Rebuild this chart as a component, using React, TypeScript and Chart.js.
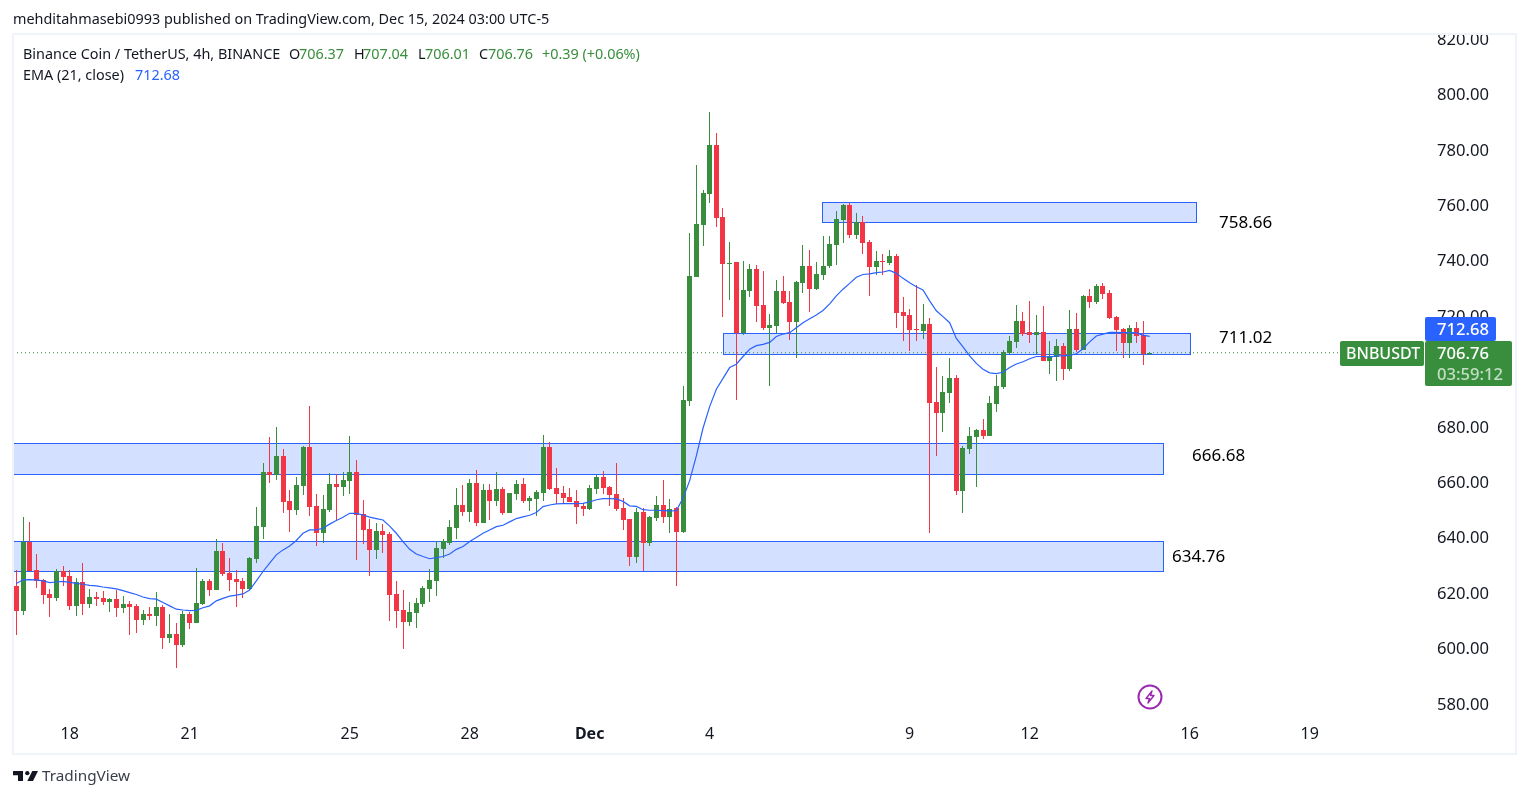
import React, { useEffect, useRef } from "react";
import { Chart, registerables } from "chart.js";

Chart.register(...registerables);

const highs = [628.4,647.5,645.7,634.1,625.1,621.5,628.7,629.8,628.4,625.4,630.8,621.5,620.4,620.8,618.3,621.1,619.0,617.2,616.1,613.9,615.0,620.4,615.7,612.5,609.2,613.6,613.2,629.1,625.1,625.1,639.6,638.1,632.7,628.4,625.5,633.1,651.1,667.0,676.4,680.0,672.0,657.2,661.9,
673.1,687.5,655.8,655.4,663.4,663.0,663.7,676.7,668.0,653.6,646.8,645.3,644.9,642.1,624.4,621.1,616.8,618.2,622.6,628.7,638.8,639.5,646.4,657.9,659.0,661.2,664.4,
659.4,659.4,663.7,658.3,656.2,660.8,661.6,655.1,657.2,677.1,674.6,665.2,658.7,658.0,657.2,652.5,659.0,662.7,664.1,658.7,667.0,654.3,646.8,650.7,650.7,647.9,655.1,660.8,654.0,651.1,694.8,
750.0,774.5,765.5,793.7,786.1,759.0,746.8,739.5,739.9,738.8,738.5,736.3,720.8,733.0,734.5,729.1,732.7,745.7,743.9,739.5,748.9,748.9,757.9,760.5,760.8,757.2,756.1,747.5,743.5,742.4,743.9,742.4,726.9,722.6,
731.2,724.3,719.3,701.6,698.3,704.8,698.7,673.1,679.9,679.2,682.8,691.1,698.7,707.7,712.8,724.0,721.4,725.4,720.4,723.6,711.0,711.7,710.3,722.2,721.1,727.6,729.7,731.5,731.9,729.4,720.0,715.7,716.8,717.8,718.2,707.04];

const lows = [604.9,612.1,628.0,622.0,616.1,611.5,617.2,622.6,613.9,611.8,612.1,614.7,615.4,615.7,613.2,611.4,612.8,604.9,605.6,608.5,610.3,608.2,599.9,602.0,593.0,600.6,607.1,609.2,615.7,619.0,621.1,626.2,620.8,615.0,618.3,621.1,630.9,639.6,659.8,660.8,648.9,642.1,648.2,
655.4,647.8,637.0,638.1,649.3,646.0,655.1,655.8,632.0,637.7,626.2,632.3,634.5,609.9,607.4,599.8,608.1,607.4,615.0,616.8,619.0,632.7,637.4,639.5,647.8,645.7,644.2,
645.7,646.4,651.5,648.2,648.9,653.6,652.5,649.7,647.9,653.3,657.2,652.2,652.5,652.9,645.0,647.9,650.0,655.8,655.8,651.5,649.7,642.8,629.8,630.9,627.8,637.0,646.0,645.3,641.7,622.6,641.7,
687.6,734.1,745.3,760.8,752.2,719.7,725.8,689.7,713.2,726.9,717.9,715.0,694.8,713.9,724.4,711.4,704.9,728.3,721.5,729.4,733.0,737.4,738.5,746.4,748.2,747.8,742.4,727.3,734.8,734.8,738.5,715.7,711.0,707.4,
711.0,711.7,641.7,669.5,678.1,688.6,655.4,648.9,670.2,658.3,675.6,676.7,685.4,693.7,706.3,708.4,712.8,710.3,706.3,703.8,699.1,696.5,696.9,700.1,707.0,707.7,722.9,724.3,726.1,718.9,707.4,704.8,704.8,710.3,702.3,706.01];

const opens = [622.6,613.6,638.6,628.4,624.8,619.7,618.3,628.0,626.2,615.4,624.0,616.1,618.6,618.3,616.8,617.9,614.7,616.1,615.4,610.3,612.5,611.8,615.0,603.8,605.3,601.3,612.5,609.2,616.1,624.4,621.1,635.2,627.3,625.1,624.4,621.5,632.3,643.9,663.7,662.7,669.5,653.3,650.0,
658.7,672.7,651.4,641.7,650.0,659.4,658.3,660.5,663.7,648.6,643.1,635.6,642.4,641.3,619.7,613.9,609.6,612.8,616.1,621.5,624.4,635.9,638.1,643.5,651.8,649.3,659.7,
645.3,657.2,653.3,657.6,648.9,655.8,659.4,653.3,654.0,656.2,672.8,658.0,656.2,654.7,653.3,651.5,650.4,657.6,661.9,658.3,655.8,650.7,646.8,633.1,649.3,638.1,647.1,651.8,647.5,650.7,642.1,
689.4,734.1,752.9,764.1,781.8,755.8,738.8,739.5,713.9,729.1,737.0,724.0,715.7,716.4,729.1,725.1,717.9,732.0,738.1,729.8,734.8,738.1,745.7,754.7,760.1,749.3,754.0,746.8,737.7,739.9,739.2,741.7,721.5,720.4,
715.3,714.6,717.1,689.0,685.0,692.2,697.6,656.8,672.0,676.3,678.9,676.7,688.2,694.4,706.6,710.6,718.2,714.2,713.1,714.2,703.8,705.2,709.2,700.9,715.3,707.7,727.2,725.1,730.8,728.3,719.6,715.3,710.3,715.7,713.1,706.37];

const closes = [613.6,638.6,628.0,624.4,619.3,618.3,628.0,625.8,615.4,624.0,616.1,618.6,617.9,616.8,617.9,614.7,616.1,615.0,610.3,612.5,611.8,615.0,603.8,605.3,601.3,612.5,609.2,616.5,624.4,621.1,635.2,626.9,624.8,624.0,621.5,632.7,644.2,663.7,662.7,669.5,652.9,650.0,659.0,
672.7,651.1,641.7,650.4,659.4,658.3,660.8,663.7,648.2,642.8,635.6,642.4,641.0,619.3,613.5,609.6,613.2,616.4,621.9,624.7,636.3,638.8,643.9,651.8,649.3,659.7,645.3,
657.2,653.3,657.6,648.9,656.2,659.4,653.3,654.3,656.5,672.8,657.6,655.8,654.3,652.9,651.1,650.4,658.0,661.9,658.0,655.4,650.4,646.4,633.1,649.3,638.1,647.5,651.8,647.5,650.4,642.1,689.7,
734.5,753.2,764.4,781.8,755.4,738.8,739.1,713.9,729.4,737.0,723.7,715.7,716.8,729.1,724.7,717.9,732.3,738.1,729.8,735.2,738.1,746.0,755.1,760.1,749.3,754.0,746.4,737.7,739.9,739.5,741.7,721.1,720.0,714.9,
714.9,717.1,688.6,685.0,692.6,697.6,656.8,672.4,676.7,678.9,676.7,688.6,694.7,707.0,711.0,718.2,713.5,713.1,714.2,703.8,705.6,709.2,700.9,715.3,707.7,727.2,725.1,730.8,727.9,719.3,714.9,710.3,715.7,712.8,706.4,706.76];

const ema21 = [623.5,624.8,624.9,624.8,624.4,623.8,624.0,624.2,623.9,623.5,623.2,622.8,622.6,622.2,621.9,621.5,620.9,620.2,619.5,618.6,618.0,617.8,616.6,615.4,614.2,613.9,613.7,613.8,614.7,615.4,617.2,618.1,618.9,619.3,619.7,621.1,624.4,627.8,630.8,633.8,635.6,637.0,639.0,
641.6,642.8,642.8,643.4,644.9,646.2,647.4,648.8,648.8,648.2,647.4,646.9,646.4,644.2,641.6,638.6,635.8,634.1,633.2,632.4,632.8,633.2,634.1,635.8,636.8,638.6,640.1,
641.6,642.8,644.0,644.5,645.7,646.9,647.5,648.1,649.1,651.2,651.8,652.2,652.3,652.3,652.3,652.4,652.9,653.7,654.1,654.1,654.0,653.1,651.5,651.3,650.1,649.9,649.9,649.8,649.7,649.8,654.2,660.6,669.5,
679.5,687.3,693.6,697.5,701.4,702.6,705.4,708.0,709.3,709.8,710.5,712.6,713.5,714.0,715.8,717.6,719.0,720.4,722.0,724.4,727.3,729.7,731.8,734.0,735.0,735.2,735.7,735.9,736.5,735.4,733.6,732.0,
730.6,729.4,725.5,721.9,719.8,717.6,711.9,708.9,705.6,702.9,700.8,699.5,699.2,699.7,701.4,702.7,703.5,704.6,705.4,705.4,705.2,705.6,705.6,705.8,706.4,708.2,710.7,712.8,713.5,714.1,714.1,714.0,714.0,713.9,713.1,712.68];

const xTickIndex = [8, 26, 50, 68, 86, 104, 134, 152, 176, 194];
const xTickLabels = ["18", "21", "25", "28", "Dec", "4", "9", "12", "16", "19"];

const zoneTop = [761.2, 713.9, 674.1, 638.7];
const zoneBottom = [754.0, 706.3, 662.9, 627.9];
const zoneStart = [120.85, 106.0, -0.5, -0.5];
const zoneEnd = [176.95, 176.05, 172.0, 172.0];

const lastPrice = 706.76;
const UP = "#388E3C";
const DOWN = "#F23645";
const BLUE = "#2962FF";
const FONT = '"Noto Sans", sans-serif';

const zonesPlugin = {
  id: "zones",
  beforeDatasetsDraw(chart: any) {
    const { ctx, scales } = chart;
    ctx.save();
    zoneTop.forEach((top, i) => {
      const x0 = Math.round(scales.x.getPixelForValue(zoneStart[i])) + 0.5;
      const x1 = Math.round(scales.x.getPixelForValue(zoneEnd[i])) + 0.5;
      const y0 = Math.round(scales.y.getPixelForValue(top)) + 0.5;
      const y1 = Math.round(scales.y.getPixelForValue(zoneBottom[i])) + 0.5;
      ctx.fillStyle = "rgba(41,98,255,0.2)";
      ctx.fillRect(x0, y0, x1 - x0, y1 - y0);
      ctx.strokeStyle = BLUE;
      ctx.lineWidth = 1;
      ctx.strokeRect(x0, y0, x1 - x0, y1 - y0);
    });
    ctx.restore();
  },
};

const nudgePlugin = {
  id: "nudge",
  beforeDraw(chart: any) {
    const s = chart.scales.y;
    if (s.__nudged) return;
    s.__nudged = true;
    s.getLabelItems(chart.chartArea).forEach((it: any) => {
      it.options.translation[1] += 1;
    });
  },
};

// Candles sit on whole device pixels, so they stay crisp at the fractional bar spacing.
const snapPlugin = {
  id: "snap",
  beforeDatasetDraw(chart: any, args: any) {
    const meta = chart.getDatasetMeta(args.index);
    if (meta.type !== "bar") return;
    meta.data.forEach((el: any) => {
      el.x = Math.floor(el.x) + 0.5;
      const top = Math.round(el.y);
      let bottom = Math.round(el.base);
      if (Math.abs(bottom - top) < 1) bottom = top + 1;
      el.y = top;
      el.base = bottom;
      el.height = bottom - top;
    });
  },
};

function Txt(props: { x: number; y: number; size?: number; color?: string; children: any; weight?: number }) {
  const size = props.size ?? 14.4;
  return (
    <span
      style={{
        position: "absolute",
        left: props.x,
        top: props.y - size * 0.7,
        fontFamily: FONT,
        fontSize: size,
        lineHeight: `${size * 1.4}px`,
        color: props.color ?? "#131722",
        fontWeight: props.weight ?? 400,
        whiteSpace: "nowrap",
      }}
    >
      {props.children}
    </span>
  );
}

function Box(props: { x: number; y: number; w: number; h: number; color: string }) {
  return (
    <div
      style={{
        position: "absolute",
        left: props.x,
        top: props.y,
        width: props.w,
        height: props.h,
        background: props.color,
        borderRadius: 2,
      }}
    />
  );
}

export default function App() {
  const ref = useRef<HTMLCanvasElement>(null);
  useEffect(() => {
    const idx = highs.map((_, i) => i);
    const colors = idx.map((i) => (closes[i] >= opens[i] ? UP : DOWN));
    const chart = new Chart(ref.current as HTMLCanvasElement, {
      type: "bar",
      data: {
        datasets: [
          {
            type: "line",
            data: idx.map((i) => ({ x: i, y: ema21[i] })),
            borderColor: BLUE,
            borderWidth: 1.2,
            pointRadius: 0,
            tension: 0,
            order: 0,
          },
          {
            type: "line",
            data: [
              { x: -0.5, y: lastPrice },
              { x: 198.5, y: lastPrice },
            ],
            borderColor: UP,
            borderWidth: 1,
            borderDash: [1, 3],
            pointRadius: 0,
            order: 1,
          },
          {
            type: "bar",
            data: idx.map((i) => ({ x: i, y: [opens[i], closes[i]] })),
            backgroundColor: colors,
            barThickness: 5,
            inflateAmount: 0,
            grouped: false,
            order: 2,
          },
          {
            type: "bar",
            data: idx.map((i) => ({ x: i, y: [lows[i], highs[i]] })),
            backgroundColor: colors,
            barThickness: 1,
            inflateAmount: 0,
            grouped: false,
            order: 3,
          },
        ] as any,
      },
      options: {
        animation: false,
        responsive: false,
        layout: { padding: { left: 13, top: 35, right: 14, bottom: 45 } },
        plugins: { legend: { display: false }, tooltip: { enabled: false } },
        scales: {
          x: {
            type: "linear",
            offset: false,
            min: -0.5,
            max: 211.3,
            grid: { display: false, drawTicks: false },
            border: { display: false },
            afterBuildTicks: (s: any) => {
              s.ticks = xTickIndex.map((value) => ({ value }));
            },
            afterFit: (s: any) => {
              s.height = 33;
            },
            ticks: {
              autoSkip: false,
              maxRotation: 0,
              padding: 5,
              color: "#131722",
              font: (c: any) => ({
                family: FONT,
                size: 16,
                weight: c.tick && c.tick.value === 86 ? "bold" : "normal",
              }),
              callback: (v: any) => xTickLabels[xTickIndex.indexOf(Number(v))] ?? "",
            },
          },
          y: {
            position: "right",
            min: 574.2,
            max: 821.44,
            grid: { display: false, drawTicks: false },
            border: { display: false },
            afterFit: (s: any) => {
              s.width = 90;
            },
            ticks: {
              stepSize: 20,
              includeBounds: false,
              padding: 12,
              color: "#131722",
              font: { family: FONT, size: 16.6 },
              callback: (v: any) => Number(v).toFixed(2),
            },
          },
        },
      } as any,
      plugins: [zonesPlugin, nudgePlugin, snapPlugin],
    });
    return () => chart.destroy();
  }, []);

  return (
    <div style={{ position: "absolute", left: 0, top: 0, width: 1529, height: 798, overflow: "hidden", background: "#fff" }}>
      <canvas ref={ref} width={1529} height={798} style={{ position: "absolute", left: 0, top: 0, display: "block" }} />
      <div
        style={{
          position: "absolute",
          left: 12,
          top: 33,
          width: 1501,
          height: 718,
          border: "2px solid #F0F3FA",
          pointerEvents: "none",
        }}
      />
      <Txt x={13} y={19}>mehditahmasebi0993 published on TradingView.com, Dec 15, 2024 03:00 UTC-5</Txt>
      <Txt x={23} y={54}>Binance Coin / TetherUS, 4h, BINANCE</Txt>
      <Txt x={289} y={54}>O</Txt>
      <Txt x={299} y={54} color={UP}>706.37</Txt>
      <Txt x={354} y={54}>H</Txt>
      <Txt x={363} y={54} color={UP}>707.04</Txt>
      <Txt x={418} y={54}>L</Txt>
      <Txt x={425} y={54} color={UP}>706.01</Txt>
      <Txt x={479} y={54}>C</Txt>
      <Txt x={488} y={54} color={UP}>706.76</Txt>
      <Txt x={542} y={54} color={UP}>+0.39 (+0.06%)</Txt>
      <Txt x={23} y={75}>EMA (21, close)</Txt>
      <Txt x={135} y={75} color={BLUE}>712.68</Txt>

      <Txt x={1219} y={222} size={17} color="#000">758.66</Txt>
      <Txt x={1219} y={337} size={17} color="#000">711.02</Txt>
      <Txt x={1192} y={455} size={17} color="#000">666.68</Txt>
      <Txt x={1172} y={556} size={17} color="#000">634.76</Txt>

      <Box x={1425} y={317} w={71} h={24} color={BLUE} />
      <Box x={1340} y={341} w={84} h={25} color={UP} />
      <Box x={1425} y={341} w={87} h={45} color={UP} />
      <Txt x={1437} y={329} size={16.6} weight={500} color="#fff">712.68</Txt>
      <Txt x={1346} y={353} size={16} weight={500} color="#fff">BNBUSDT</Txt>
      <Txt x={1437} y={353} size={16.6} weight={500} color="#fff">706.76</Txt>
      <Txt x={1437} y={374} size={16.6} weight={500} color="rgba(255,255,255,0.7)">03:59:12</Txt>

      <svg style={{ position: "absolute", left: 1137, top: 684 }} width={26} height={26} viewBox="0 0 26 26">
        <circle cx={13} cy={13} r={11.5} fill="none" stroke="#9C27B0" strokeWidth={2} />
        <path d="M15 7 L9 14.5 H12.5 L11 19 L17 11.5 H13.5 Z" fill="none" stroke="#9C27B0" strokeWidth={1.4} strokeLinejoin="round" />
      </svg>

      <svg style={{ position: "absolute", left: 13, top: 770 }} width={25} height={12} viewBox="0 6 35 14">
        <path d="M14 6H0v6h7v8h7V6Z" fill="#131722" />
        <circle cx={20} cy={9} r={3} fill="#131722" />
        <path d="M28 20h-8l7-14h8l-7 14Z" fill="#131722" />
      </svg>
      <Txt x={42} y={776} size={15.3} color="#3a3e4a">TradingView</Txt>
    </div>
  );
}
